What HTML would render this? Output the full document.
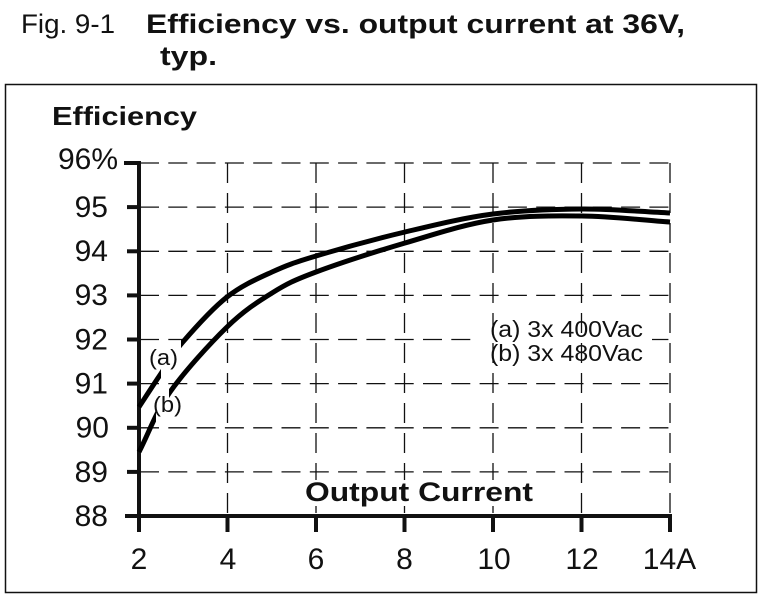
<!DOCTYPE html>
<html>
<head>
<meta charset="utf-8">
<style>
html,body{margin:0;padding:0;background:#fff;}
svg{display:block;}
text{font-family:"Liberation Sans",sans-serif;fill:#111;}
</style>
</head>
<body>
<svg width="762" height="599" viewBox="0 0 762 599" xmlns="http://www.w3.org/2000/svg">
<rect x="0" y="0" width="762" height="599" fill="#fff"/>
<!-- Title -->
<text x="21" y="33" font-size="27" textLength="94" lengthAdjust="spacingAndGlyphs">Fig. 9-1</text>
<text x="146" y="33" font-size="27" font-weight="bold" textLength="539" lengthAdjust="spacingAndGlyphs">Efficiency vs. output current at 36V,</text>
<text x="160" y="65" font-size="27" font-weight="bold" textLength="57" lengthAdjust="spacingAndGlyphs">typ.</text>
<!-- Frame -->
<rect x="5.5" y="84.5" width="751" height="508" fill="none" stroke="#111" stroke-width="1.5"/>
<text x="52" y="125" font-size="26" font-weight="bold" textLength="145" lengthAdjust="spacingAndGlyphs">Efficiency</text>

<!-- Horizontal grid -->
<g stroke="#111" stroke-width="1.3" stroke-dasharray="19 9.3" fill="none">
<line x1="140" y1="163" x2="670" y2="163"/>
<line x1="140" y1="207.1" x2="670" y2="207.1"/>
<line x1="140" y1="251.3" x2="670" y2="251.3"/>
<line x1="140" y1="295.4" x2="670" y2="295.4"/>
<line x1="140" y1="339.5" x2="670" y2="339.5"/>
<line x1="140" y1="383.6" x2="670" y2="383.6"/>
<line x1="140" y1="427.8" x2="670" y2="427.8"/>
<line x1="140" y1="471.9" x2="670" y2="471.9"/>
</g>
<!-- white boxes behind labels -->
<rect x="478" y="318" width="174" height="50" fill="#fff"/>
<rect x="298" y="478" width="240" height="32" fill="#fff"/>
<!-- Vertical grid -->
<g stroke="#111" stroke-width="1.3" stroke-dasharray="20 10" fill="none">
<line x1="227.5" y1="163" x2="227.5" y2="516"/>
<line x1="316" y1="163" x2="316" y2="516"/>
<line x1="404.5" y1="163" x2="404.5" y2="516"/>
<line x1="493" y1="163" x2="493" y2="516"/>
<line x1="581.5" y1="163" x2="581.5" y2="516"/>
<line x1="670" y1="163" x2="670" y2="516"/>
</g>
<rect x="298" y="480" width="240" height="26" fill="#fff"/>

<!-- Axes -->
<g stroke="#111" stroke-width="4" fill="none">
<line x1="139" y1="161" x2="139" y2="532"/>
<line x1="125" y1="516" x2="672" y2="516"/>
<line x1="124" y1="163" x2="139" y2="163"/>
<line x1="127" y1="207.1" x2="139" y2="207.1"/>
<line x1="127" y1="251.3" x2="139" y2="251.3"/>
<line x1="127" y1="295.4" x2="139" y2="295.4"/>
<line x1="127" y1="339.5" x2="139" y2="339.5"/>
<line x1="127" y1="383.6" x2="139" y2="383.6"/>
<line x1="127" y1="427.8" x2="139" y2="427.8"/>
<line x1="127" y1="471.9" x2="139" y2="471.9"/>
<line x1="227.5" y1="516" x2="227.5" y2="532"/>
<line x1="316" y1="516" x2="316" y2="532"/>
<line x1="404.5" y1="516" x2="404.5" y2="532"/>
<line x1="493" y1="516" x2="493" y2="532"/>
<line x1="581.5" y1="516" x2="581.5" y2="532"/>
<line x1="670" y1="516" x2="670" y2="532"/>
</g>

<!-- Y labels -->
<g font-size="30" text-anchor="end">
<text x="118" y="169">96%</text>
<text x="108" y="217">95</text>
<text x="108" y="261">94</text>
<text x="108" y="305">93</text>
<text x="108" y="349.5">92</text>
<text x="108" y="393.5">91</text>
<text x="109" y="437.5">90</text>
<text x="108" y="482">89</text>
<text x="108" y="526">88</text>
</g>
<!-- X labels -->
<g font-size="30" text-anchor="middle">
<text x="139" y="569">2</text>
<text x="228" y="569">4</text>
<text x="316" y="569">6</text>
<text x="404.5" y="569">8</text>
<text x="494" y="569">10</text>
<text x="582" y="569">12</text>
<text x="669.5" y="569">14A</text>
</g>
<text x="305" y="501" font-size="27" font-weight="bold" textLength="228" lengthAdjust="spacingAndGlyphs">Output Current</text>

<!-- Legend -->
<text x="490" y="337" font-size="23" textLength="153" lengthAdjust="spacingAndGlyphs">(a) 3x 400Vac</text>
<text x="490" y="361" font-size="23" textLength="153" lengthAdjust="spacingAndGlyphs">(b) 3x 480Vac</text>
<text x="149" y="365" font-size="22" textLength="29" lengthAdjust="spacingAndGlyphs">(a)</text>
<text x="153" y="412" font-size="22" textLength="29" lengthAdjust="spacingAndGlyphs">(b)</text>

<defs>
<mask id="ma" maskUnits="userSpaceOnUse" x="0" y="0" width="762" height="599">
<rect x="0" y="0" width="762" height="599" fill="#fff"/>
<rect x="161" y="330" width="20" height="60" fill="#000"/>
</mask>
<mask id="mb" maskUnits="userSpaceOnUse" x="0" y="0" width="762" height="599">
<rect x="0" y="0" width="762" height="599" fill="#fff"/>
<rect x="156" y="380" width="13" height="60" fill="#000"/>
</mask>
</defs>
<!-- Curves -->
<path mask="url(#ma)" fill="none" stroke="#000" stroke-width="5" d="M139,407 C146,396.3 152.8,385.7 160,375 C167.2,364.3 170.8,356 182,343 C193.2,330 212,308.8 227,297 C242,285.2 257.2,278.8 272,272 C286.8,265.2 293.8,262.7 316,256 C338.2,249.3 375.5,239 405,232 C434.5,225 463.5,217.8 493,214 C522.5,210.2 552.5,209.2 582,209 C611.5,208.8 640.7,211.7 670,213"/>
<path mask="url(#mb)" fill="none" stroke="#000" stroke-width="5" d="M139,452 C149.3,432 155.3,412.8 170,392 C184.7,371.2 210,343.5 227,327 C244,310.5 257.2,302.2 272,293 C286.8,283.8 293.8,280.3 316,272 C338.2,263.7 375.5,251.7 405,243 C434.5,234.3 463.5,224.5 493,220 C522.5,215.5 552.5,215.7 582,216 C611.5,216.3 640.7,220 670,222"/>
</svg>
</body>
</html>
